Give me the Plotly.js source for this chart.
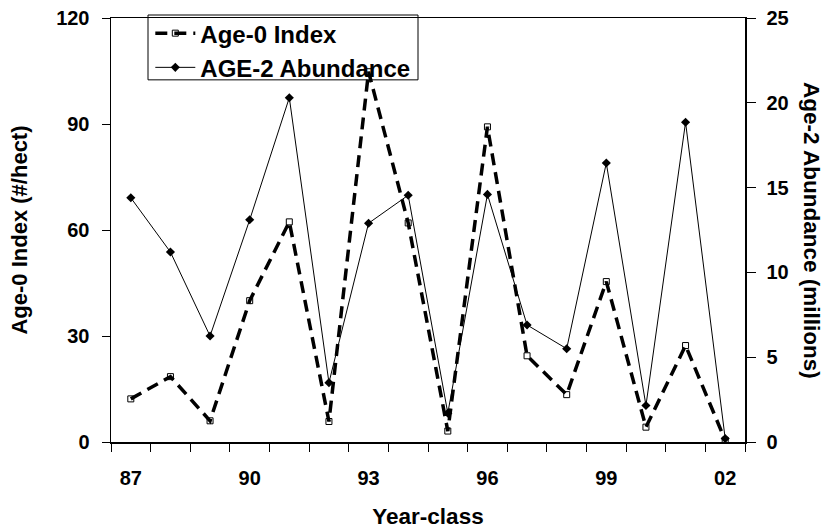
<!DOCTYPE html>
<html>
<head>
<meta charset="utf-8">
<script src="https://cdn.plot.ly/plotly-3.0.1.min.js"></script>
<style>html,body{margin:0;padding:0;background:#fff;}#chart{width:829px;height:531px;}</style>
</head>
<body>
<div id="chart"></div>
<script>
const years = ['87','88','89','90','91','92','93','94','95','96','97','98','99','00','01','02'];
const tickLabels = ['87','','','90','','','93','','','96','','','99','','','02'];
const age0Index = [12.2, 18.5, 6.0, 40.0, 62.3, 5.8, 104.8, 62.0, 3.1, 89.2, 24.4, 13.4, 45.4, 4.2, 27.3, 0.5];
const age2Abundance = [14.4, 11.2, 6.25, 13.1, 20.3, 3.5, 12.9, 14.55, 1.7, 14.6, 6.9, 5.5, 16.45, 2.15, 18.85, 0.2];

const FONT = 'Liberation Sans, Arial, sans-serif';

const traces = [
  {
    x: years, y: age0Index, name: 'Age-0 Index', type: 'scatter', mode: 'lines+markers',
    line: {color: '#000', width: 3.5, dash: '12px,7px'},
    marker: {symbol: 'square-open', size: 6, color: '#000', line: {width: 1, color: '#000'}},
    xaxis: 'x', yaxis: 'y'
  },
  {
    x: years, y: age2Abundance, name: 'AGE-2 Abundance', type: 'scatter', mode: 'lines+markers',
    line: {color: '#000', width: 1},
    marker: {symbol: 'diamond', size: 7, color: '#000'},
    xaxis: 'x', yaxis: 'y2'
  }
];

const tickFont = {family: FONT, size: 20, color: '#000', weight: 700};
const titleFont = {family: FONT, size: 22.5, color: '#000', weight: 700};

const layout = {
  width: 829, height: 531,
  margin: {l: 111, r: 84, t: 17, b: 89, pad: 0},
  paper_bgcolor: '#fff', plot_bgcolor: '#fff',
  showlegend: true,
  legend: {
    x: 0.062, y: 1.014, xanchor: 'left', yanchor: 'top',
    bgcolor: 'rgba(0,0,0,0)', borderwidth: 0,
    font: {family: FONT, size: 24, color: '#000', weight: 700},
    itemwidth: 40, traceorder: 'normal'
  },
  shapes: [{
    type: 'rect', xref: 'paper', yref: 'paper',
    x0: (148 - 111) / 634, x1: (418 - 111) / 634,
    y0: (442 - 79) / 425, y1: (442 - 14) / 425,
    line: {color: '#000', width: 1}, fillcolor: 'rgba(0,0,0,0)', layer: 'above'
  }],
  xaxis: {
    type: 'category', categoryorder: 'array', categoryarray: years,
    range: [-0.5, 15.5],
    tickmode: 'array', tickvals: years, ticktext: tickLabels,
    tickson: 'boundaries', ticks: 'outside', ticklen: 8, tickwidth: 1, tickcolor: '#000',
    showline: true, linecolor: '#000', linewidth: 1.5, mirror: true,
    showgrid: false, zeroline: false,
    tickfont: tickFont, ticklabelstandoff: 17,
    title: {text: 'Year-class', font: titleFont, standoff: 20}
  },
  yaxis: {
    range: [0, 120], tickmode: 'array', tickvals: [0, 30, 60, 90, 120],
    ticks: 'outside', ticklen: 8, tickwidth: 1, tickcolor: '#000',
    showline: true, linecolor: '#000', linewidth: 1.5,
    showgrid: false, zeroline: false,
    tickfont: tickFont, ticklabelstandoff: 8,
    title: {text: 'Age-0 Index (#/hect)', font: {family: FONT, size: 22, color: '#000', weight: 700}, standoff: 22}
  },
  yaxis2: {
    range: [0, 25], tickmode: 'array', tickvals: [0, 5, 10, 15, 20, 25],
    overlaying: 'y', side: 'right',
    ticks: 'outside', ticklen: 9, tickwidth: 1, tickcolor: '#000',
    showline: true, linecolor: '#000', linewidth: 1.5,
    showgrid: false, zeroline: false,
    tickfont: tickFont, ticklabelstandoff: 7
  },
  annotations: [{
    text: 'Age-2 Abundance (millions)', xref: 'paper', yref: 'paper',
    x: 1.1057, y: 0.5, xanchor: 'center', yanchor: 'middle',
    textangle: 90, showarrow: false, font: titleFont
  }]
};

Plotly.newPlot('chart', traces, layout, {displayModeBar: false, staticPlot: true});
</script>
</body>
</html>
